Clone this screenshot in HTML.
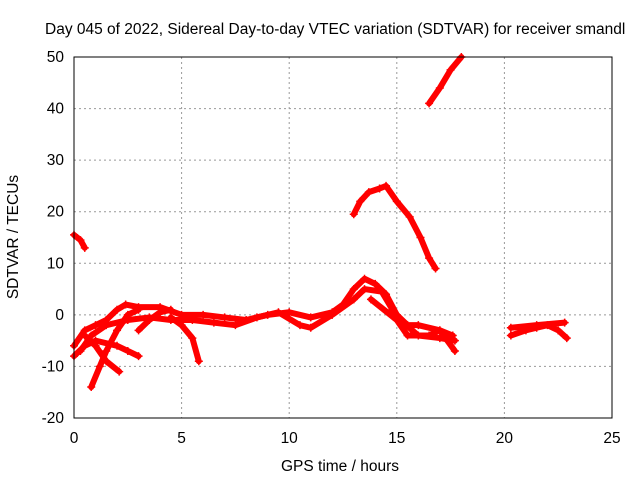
<!DOCTYPE html>
<html><head><meta charset="utf-8"><style>
body{margin:0;background:#fff}
svg text{font-family:"Liberation Sans",sans-serif;font-size:15.5px;fill:#000}
</style></head><body>
<svg id="chart" width="640" height="480">
<text x="45" y="34">Day 045 of 2022, Sidereal Day-to-day VTEC variation (SDTVAR) for receiver smandl</text>
<g id="grid"></g><g id="ticks"></g><g id="series"></g>
<rect x="74" y="57" width="538" height="361" fill="none" stroke="#000"/>
<text x="340" y="471" text-anchor="middle">GPS time / hours</text>
<text transform="translate(18,237) rotate(-90)" text-anchor="middle">SDTVAR / TECUs</text>
</svg>
<script>
const xTicks=[0,5,10,15,20,25];
const yTicks=[-20,-10,0,10,20,30,40,50];
const traceUpper=[[13.0,19.5],[13.3,22],[13.7,23.8],[14.2,24.5],[14.5,25],[15,22],[15.6,19],[16.1,15],[16.5,11],[16.8,9]];
const traceStart=[[0,15.5],[0.3,14.5],[0.5,13]];
const traceHigh=[[16.5,41],[17,44],[17.5,47.5],[18,50]];
const traceMain=[[0,-6],[0.5,-3],[1,-2],[1.5,-1],[2,1],[2.4,2],[3,1.5],[4,1.5],[5,0],[6,0],[7,-0.5],[8,-1],[9,0],[10,0.5],[11,-0.5],[12,0.5],[12.5,2],[13,5],[13.5,7],[14,6],[14.5,4],[15,0],[15.5,-2],[16,-2],[17,-3],[17.6,-4]];
const traceLow=[[0.3,-7],[0.8,-4],[1.5,-2],[2.5,-1],[3.5,-0.5],[4.5,-1],[5.5,-1],[6.5,-1.5],[7.5,-2],[8.5,-0.5],[9.5,0.5],[10.5,-2],[11,-2.5],[12,0],[13,3],[13.5,5],[14.3,4.5],[14.8,1],[15.3,-1.5],[16,-4],[17,-4.5],[17.7,-5]];
const traceDrop=[[13.8,3],[15,-1],[15.5,-4],[16.5,-4],[17,-3],[17.7,-7]];
const traceA=[[0,-8],[0.5,-6],[1,-5],[2,-6],[2.5,-7],[3,-8]];
const traceB=[[0.8,-14],[1.2,-10],[1.5,-7],[2,-3],[2.5,0],[3,1]];
const traceC=[[0.5,-4],[1,-6],[1.5,-9],[2.1,-11]];
const traceD=[[4.5,-0.5],[5,-2],[5.5,-4.5],[5.8,-9]];
const traceE=[[3,-3],[3.5,-1],[4,0.5],[4.5,1]];
const traceLate=[[20.3,-4],[21,-3],[21.5,-2.5],[22,-2],[22.5,-3],[22.9,-4.5]];
const traceLate2=[[20.3,-2.5],[21.5,-2],[22.8,-1.5]];
const traces=[traceUpper,traceStart,traceHigh,traceMain,traceLow,traceDrop,traceA,traceB,traceC,traceD,traceE,traceLate,traceLate2];
const NS="http://www.w3.org/2000/svg";
const X=h=>74+h*(538/25), Y=v=>418-(v+20)*(361/70);
const grid=document.getElementById('grid'),ticks=document.getElementById('ticks'),ser=document.getElementById('series');
function mk(tag,attrs,parent){const e=document.createElementNS(NS,tag);for(const k in attrs)e.setAttribute(k,attrs[k]);parent.appendChild(e);return e;}
xTicks.forEach(t=>{
 if(t>0&&t<25){const g=mk('line',{x1:X(t),x2:X(t),y1:57,y2:418,stroke:'#999','stroke-dasharray':'2,3'},grid);
 
 }
 const l=mk('text',{x:X(t),y:443,'text-anchor':'middle'},ticks);l.textContent=t;
 
 
});
yTicks.forEach(t=>{
 if(t>-20&&t<50){const g=mk('line',{x1:74,x2:612,y1:Y(t),y2:Y(t),stroke:'#999','stroke-dasharray':'2,3'},grid);
 
 }
 const l=mk('text',{x:64,y:Y(t)+5,'text-anchor':'end'},ticks);l.textContent=t;
 
 
});
traces.forEach(tr=>{
 const p=mk('polyline',{points:tr.map(d=>X(d[0])+','+Y(d[1])).join(' '),fill:'none',stroke:'#f00','stroke-width':6,'stroke-linejoin':'round','stroke-linecap':'round'},ser);
 
 
 tr.forEach(d=>{const m=mk('path',{d:`M${X(d[0])-4},${Y(d[1])}h8M${X(d[0])},${Y(d[1])-4}v8`,stroke:'#f00','stroke-width':1.5},ser);
 
 });
});
</script>
</body></html>
